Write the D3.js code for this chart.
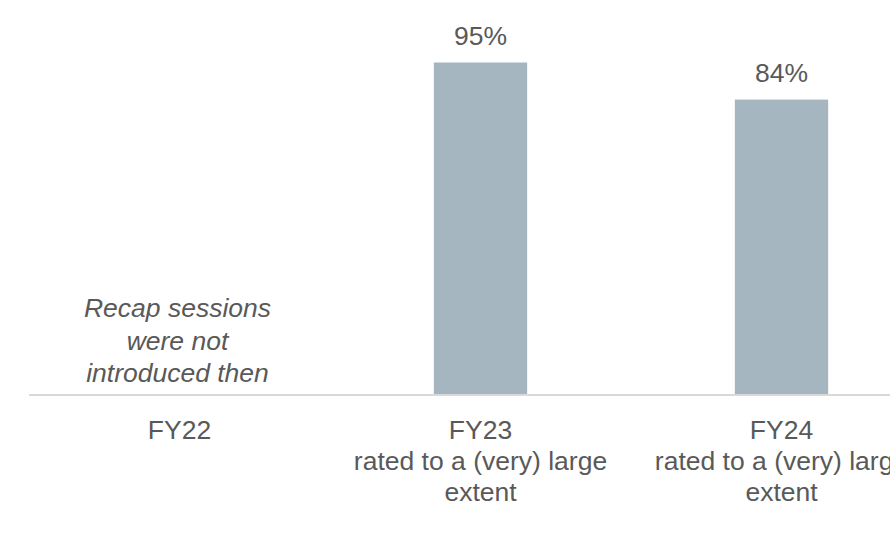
<!DOCTYPE html>
<html lang="en">
<head>
    <meta charset="UTF-8">
    <title>Recap sessions</title>
    <script src="https://cdn.jsdelivr.net/npm/d3@7"></script>
    <style>
        body { margin: 0; background: #FFFFFF; }
        text { font-family: "Liberation Sans", Arial, sans-serif; fill: #595959; }
    </style>
</head>
<body>
    <div id="canvas"></div>

    <script>
        // data
        const categories = ['FY22', 'FY23', 'FY24'];
        const subLabels = [[], ['rated to a (very) large', 'extent'], ['rated to a (very) large', 'extent']];
        const values = [null, 95, 84.4];
        const note = ['Recap sessions', 'were not', 'introduced then'];
    </script>

    <script>
        const canvasWidth = 890;
        const canvasHeight = 540;
        const baseY = 395;
        const fontSize = '26.5px';

        const svg = d3.select('#canvas')
            .append('svg')
            .attr('width', canvasWidth)
            .attr('height', canvasHeight);

        const x = d3.scaleBand()
            .domain(categories)
            .range([29, 932])
            .paddingInner(0.69)
            .paddingOuter(0.345);

        const y = d3.scaleLinear()
            .domain([0, 100])
            .range([baseY, 45]);

        const rows = categories.map((c, i) => ({ cat: c, value: values[i], sub: subLabels[i] }));
        const withBars = rows.filter(d => d.value != null);

        // bars
        svg.selectAll('rect.bar')
            .data(withBars)
            .enter()
            .append('rect')
            .attr('class', 'bar')
            .attr('x', d => x(d.cat))
            .attr('y', d => y(d.value))
            .attr('width', x.bandwidth())
            .attr('height', d => baseY - y(d.value))
            .attr('fill', '#A6B6C0');

        // value labels
        svg.selectAll('text.value')
            .data(withBars)
            .enter()
            .append('text')
            .attr('class', 'value')
            .attr('x', d => x(d.cat) + x.bandwidth() / 2)
            .attr('y', d => y(d.value) - 18)
            .attr('text-anchor', 'middle')
            .style('font-size', fontSize)
            .text(d => d3.format('.0f')(d.value) + '%');

        // note for FY22
        svg.append('text')
            .attr('text-anchor', 'middle')
            .style('font-size', fontSize)
            .style('font-style', 'italic')
            .selectAll('tspan')
            .data(note)
            .enter()
            .append('tspan')
            .attr('x', x('FY22') + x.bandwidth() / 2 - 2)
            .attr('y', (d, i) => 317 + i * 32.5)
            .text(d => d);

        // x axis
        const axis = svg.append('g')
            .attr('transform', `translate(0,${baseY})`)
            .call(d3.axisBottom(x).tickSize(0).tickPadding(0));

        axis.select('.domain').remove();
        axis.append('line')
            .attr('x1', 29)
            .attr('x2', canvasWidth)
            .attr('stroke', '#D9D9D9')
            .attr('stroke-width', 2);

        axis.selectAll('.tick text').each(function (d, i) {
            const t = d3.select(this);
            const lines = [d].concat(rows[i].sub);
            t.text(null)
                .attr('y', null)
                .attr('dy', null)
                .attr('fill', '#595959')
                .style('font-size', fontSize)
                .style('font-family', '"Liberation Sans", Arial, sans-serif');
            t.selectAll('tspan')
                .data(lines)
                .enter()
                .append('tspan')
                .attr('x', 0)
                .attr('y', (l, j) => 44 + j * 31)
                .text(l => l);
        });
    </script>
</body>
</html>
